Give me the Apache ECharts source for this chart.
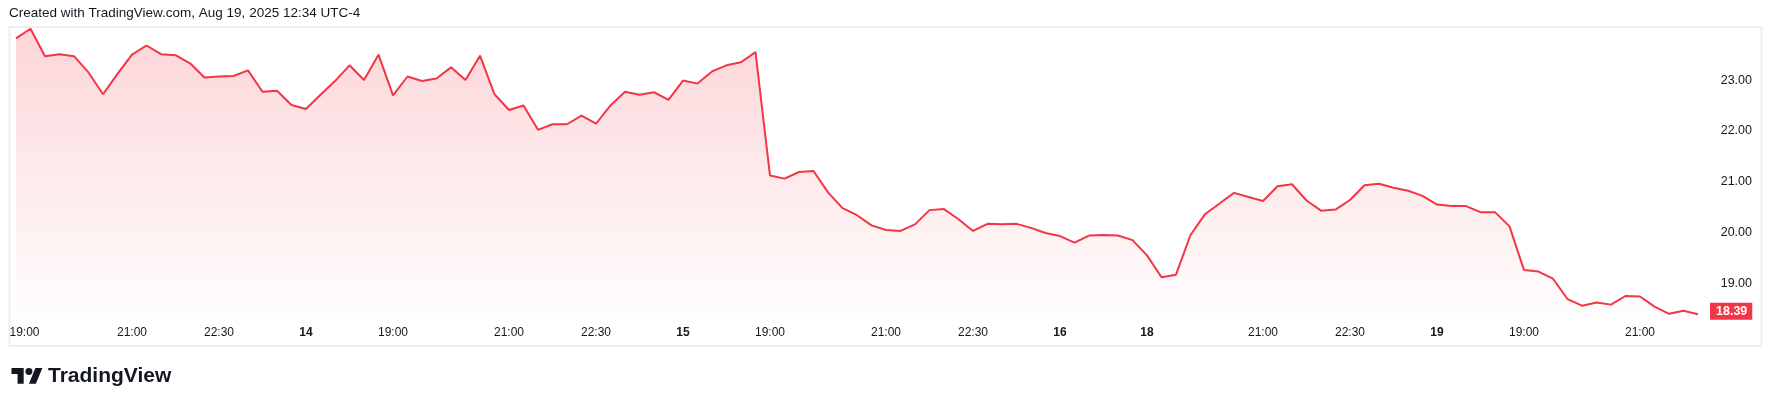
<!DOCTYPE html>
<html><head><meta charset="utf-8">
<script src="https://cdn.jsdelivr.net/npm/echarts@6/dist/echarts.min.js"></script>
<style>html,body{margin:0;padding:0;background:#fff}#c{width:1772px;height:407px}</style>
</head><body><div id="c"></div>
<script>
// sessions (15-minute bars, 19:00 session start)
const sessionDays = ['13', '14', '15', '18', '19'];
const sessionBars = [26, 26, 26, 26, 13];

const prices = [
  23.82, 24.01, 23.47, 23.51, 23.47, 23.15, 22.72, 23.12, 23.50, 23.68,
  23.51, 23.49, 23.33, 23.05, 23.07, 23.08, 23.19, 22.77, 22.79, 22.51,
  22.43, 22.71, 22.98, 23.29, 23.00, 23.50, 22.70, 23.07, 22.98, 23.03,
  23.25, 23.00, 23.48, 22.72, 22.41, 22.50, 22.02, 22.13, 22.13, 22.30,
  22.14, 22.50, 22.77, 22.71, 22.76, 22.61, 22.99, 22.93, 23.17, 23.29,
  23.35, 23.55, 21.12, 21.06, 21.19, 21.21, 20.79, 20.48, 20.34, 20.14,
  20.05, 20.03, 20.16, 20.44, 20.46, 20.26, 20.03, 20.17, 20.16, 20.17,
  20.09, 19.99, 19.93, 19.80, 19.94, 19.95, 19.94, 19.85, 19.55, 19.12,
  19.17, 19.95, 20.36, 20.57, 20.78, 20.70, 20.62, 20.91, 20.95, 20.63,
  20.43, 20.45, 20.64, 20.93, 20.96, 20.88, 20.82, 20.72, 20.55, 20.52,
  20.52, 20.40, 20.40, 20.12, 19.26, 19.23, 19.09, 18.69, 18.56, 18.62,
  18.58, 18.75, 18.74, 18.54, 18.40, 18.46, 18.39
];

const tickIndex  = [0, 8, 14, 20, 26, 34, 40, 46, 52, 60, 66, 72, 78, 86, 92, 98, 104, 112];
const tickLabels = ['19:00', '21:00', '22:30', '14', '19:00', '21:00', '22:30', '15', '19:00',
                    '21:00', '22:30', '16', '18', '21:00', '22:30', '19', '19:00', '21:00'];
const tickIsDate = [false, false, false, true, false, false, false, true, false,
                    false, false, true, true, false, false, true, false, false];
const priceTicks = [19, 20, 21, 22, 23];
const lastPrice = 18.39;

const titleText = 'Created with TradingView.com, Aug 19, 2025 12:34 UTC-4';

// categories: bar times
const categories = [];
sessionDays.forEach((d, s) => {
  for (let k = 0; k < sessionBars[s]; k++) {
    const mins = 19 * 60 + k * 15;
    const hh = Math.floor(mins / 60) % 24, mm = mins % 60;
    categories.push(d + ' ' + String(hh).padStart(2, '0') + ':' + String(mm).padStart(2, '0'));
  }
});

const FONT = 'Liberation Sans';
const TXT = '#131722';
const RED = '#f23645';

const chart = echarts.init(document.getElementById('c'), null, {renderer: 'canvas'});
chart.setOption({
  animation: false,
  backgroundColor: '#fff',
  title: {
    text: titleText, left: 9, top: 6.5, padding: 0,
    textStyle: {fontFamily: FONT, fontSize: 13.5, fontWeight: 'normal', color: '#131722'}
  },
  grid: {left: 16, right: 74, top: 26.7, bottom: 72.9, containLabel: false},
  xAxis: {
    type: 'category', data: categories, boundaryGap: false,
    axisLine: {show: false}, axisTick: {show: false}, splitLine: {show: false},
    axisLabel: {
      interval: (i) => tickIndex.includes(i),
      margin: -1, verticalAlign: 'middle',
      fontFamily: FONT, fontSize: 12, color: TXT,
      formatter: (v, i) => {
        const k = tickIndex.indexOf(i);
        if (k < 0) return '';
        if (k === 0) return '{f|' + tickLabels[k] + '}';
        return tickIsDate[k] ? '{b|' + tickLabels[k] + '}' : tickLabels[k];
      },
      rich: {
        b: {fontFamily: FONT, fontSize: 12, fontWeight: 'bold', color: TXT},
        f: {fontFamily: FONT, fontSize: 12, color: TXT, padding: [0, 0, 0, 17]}
      }
    }
  },
  yAxis: {
    type: 'value', position: 'right', min: 18, max: 24.05, interval: 1,
    axisLine: {show: false}, axisTick: {show: false}, splitLine: {show: false},
    axisLabel: {
      align: 'right', margin: 54,
      fontFamily: FONT, fontSize: 12.5, color: TXT,
      formatter: (v) => priceTicks.includes(Math.round(v * 100) / 100) ? v.toFixed(2) : ''
    }
  },
  series: [{
    type: 'line', data: prices, symbol: 'none', clip: false,
    lineStyle: {color: RED, width: 2},
    areaStyle: {
      origin: 18.3,
      color: new echarts.graphic.LinearGradient(0, 0, 0, 1, [
        {offset: 0, color: 'rgba(242,54,69,0.30)'},
        {offset: 0.5, color: 'rgba(242,54,69,0.15)'},
        {offset: 1, color: 'rgba(242,54,69,0.015)'}
      ])
    },
    markLine: {
      silent: true, symbol: ['none', 'none'], animation: false,
      lineStyle: {color: 'rgba(0,0,0,0)', width: 1, type: 'solid'},
      data: [{yAxis: lastPrice}],
      label: {
        show: true, position: 'end', distance: 12, offset: [0, -3],
        formatter: () => lastPrice.toFixed(2),
        backgroundColor: RED, color: '#fff', fontFamily: FONT, fontSize: 12.5, fontWeight: 'bold',
        padding: [2, 5, 2, 6]
      }
    }
  }],
  graphic: [
    {type: 'rect', silent: true, z: -1,
      shape: {x: 9.5, y: 27, width: 1752, height: 319},
      style: {fill: 'none', stroke: '#eeeeee', lineWidth: 2}},
    {type: 'group', silent: true, x: 11.5, y: 364.5, scaleX: 0.87, scaleY: 0.87, children: [
      {type: 'polygon', shape: {points: [[14, 22], [7, 22], [7, 11], [0, 11], [0, 4], [14, 4]]}, style: {fill: '#131722'}},
      {type: 'polygon', shape: {points: [[28, 22], [20, 22], [27.5, 4], [35.5, 4]]}, style: {fill: '#131722'}},
      {type: 'circle', shape: {cx: 20, cy: 8, r: 4}, style: {fill: '#131722'}}
    ]},
    {type: 'text', silent: true, x: 48, y: 376.5,
      style: {text: 'TradingView', fontFamily: FONT, fontSize: 21, fontWeight: 'bold', fill: '#131722', verticalAlign: 'middle'}}
  ]
});
</script></body></html>
